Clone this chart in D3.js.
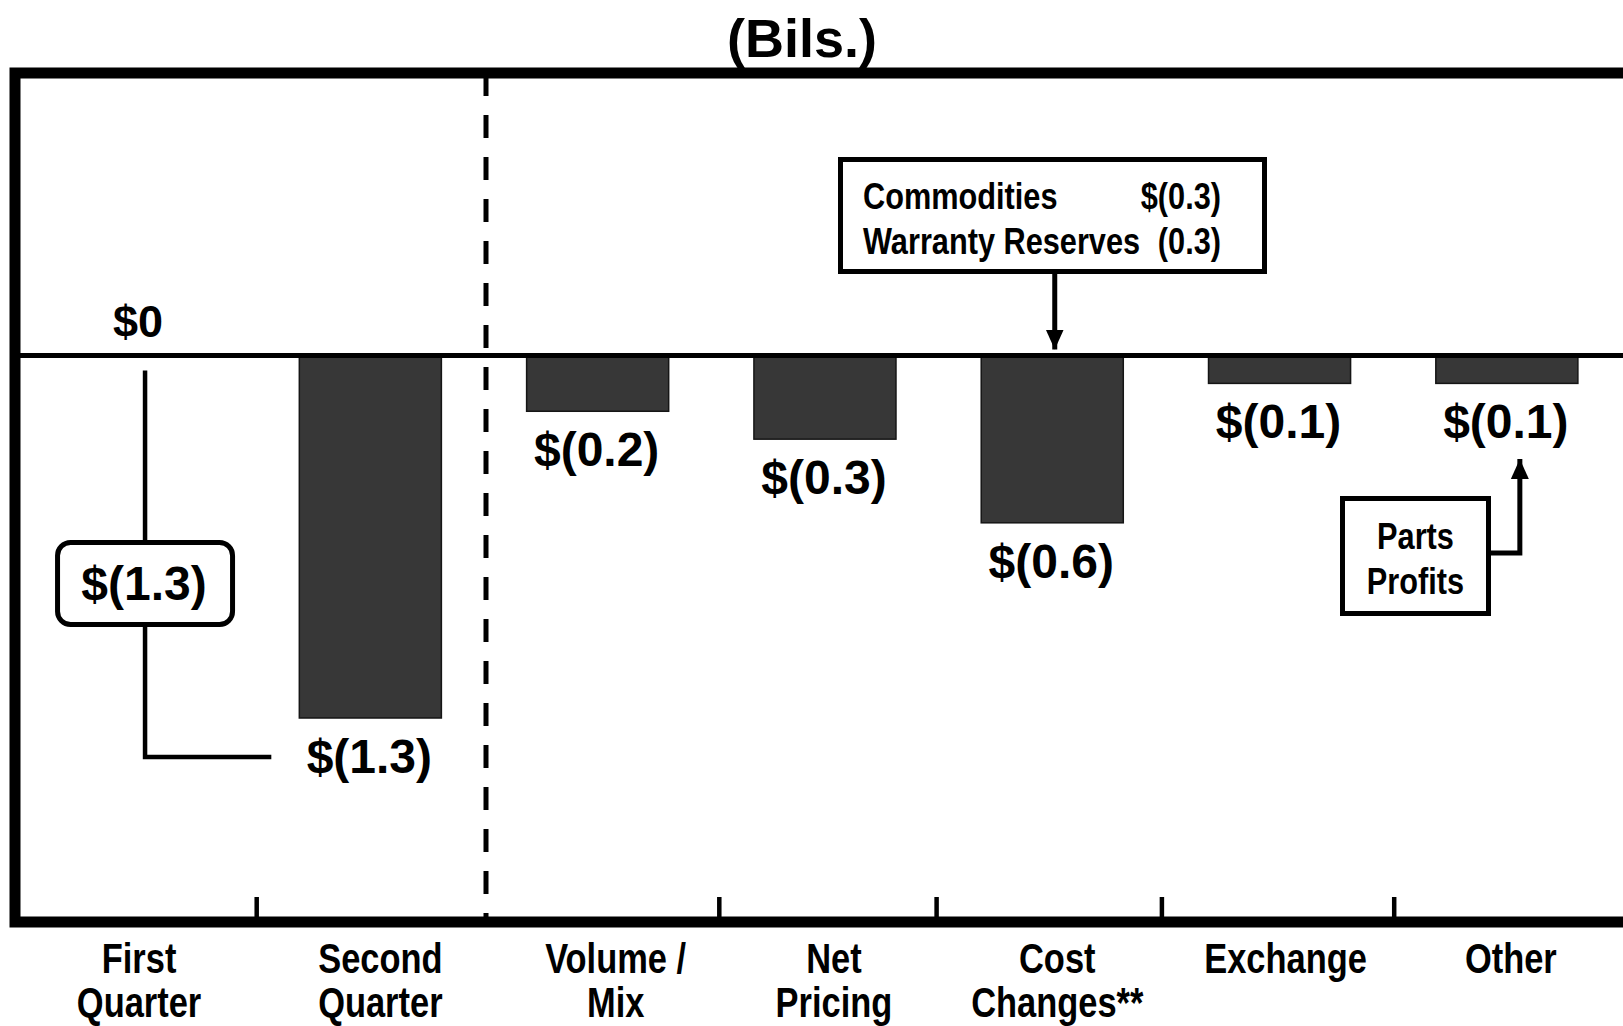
<!DOCTYPE html>
<html>
<head>
<meta charset="utf-8">
<script src="https://cdn.jsdelivr.net/npm/d3@7"></script>
<style>
  html, body { margin: 0; padding: 0; background: #ffffff; }
  svg { display: block; }
</style>
</head>
<body>
<svg id="chart" width="1623" height="1026"></svg>
<script>
// ---------------- data ----------------
const titleText = "(Bils.)";
const categories = ["First Quarter", "Second Quarter", "Volume / Mix", "Net Pricing", "Cost Changes**", "Exchange", "Other"];
const categoryLines = [["First", "Quarter"], ["Second", "Quarter"], ["Volume /", "Mix"], ["Net", "Pricing"], ["Cost", "Changes**"], ["Exchange"], ["Other"]];
const values = [0, -1.3, -0.2, -0.3, -0.6, -0.1, -0.1];
const valueLabels = ["$0", "$(1.3)", "$(0.2)", "$(0.3)", "$(0.6)", "$(0.1)", "$(0.1)"];
const changeLabel = "$(1.3)";
const costDetailNames = ["Commodities", "Warranty Reserves"];
const costDetailValues = ["$(0.3)", "(0.3)"];
const otherNoteLines = ["Parts", "Profits"];

// ---------------- layout ----------------
const W = 1623, H = 1026;
const frame = { left: 15, top: 73, right: 1640, bottom: 922 };
const labelNudge = [-4, 10, 18, 9, 5, 6, 4];     // horizontal nudges of category labels (px)
const tickNudge = [0, 8, -2, -4, 1];              // horizontal nudges of bottom ticks (px)
const svg = d3.select("#chart");
svg.append("rect").attr("width", W).attr("height", H).attr("fill", "#fff");

const x = d3.scaleBand().domain(categories).range([29.4, 1620.5]).paddingInner(0.375).paddingOuter(0.1875);
const y = d3.scaleLinear().domain([-1.3, 0]).range([718, 355.5]);
const step = x.step();
const cx = c => x(c) + x.bandwidth() / 2;
const boundary = c => x(c) - (step - x.bandwidth()) / 2;

const bold = "'Liberation Sans', Arial, Helvetica, sans-serif";

// condensed text helper
function cText(parent, tx, ty, str, size, anchor, sx) {
  return parent.append("g").attr("transform", `translate(${tx},${ty}) scale(${sx},1)`)
    .append("text").attr("x", 0).attr("y", 0)
    .attr("font-family", bold).attr("font-weight", "bold").attr("font-size", size)
    .attr("text-anchor", anchor || "start").text(str);
}

svg.append("defs").append("marker")
  .attr("id", "arrow").attr("viewBox", "0 0 10 10").attr("refX", 10).attr("refY", 5)
  .attr("markerUnits", "userSpaceOnUse").attr("markerWidth", 20).attr("markerHeight", 20)
  .attr("orient", "auto")
  .append("path").attr("d", "M0,0.5 L10,5 L0,9.5 Z").attr("fill", "#000");

// title
svg.append("text").attr("x", 802).attr("y", 57).attr("text-anchor", "middle")
  .attr("font-family", bold).attr("font-weight", "bold").attr("font-size", 54)
  .text(titleText);

// bars
svg.append("g").selectAll("rect").data(categories.map((c, i) => ({ c, v: values[i] })).filter(d => d.v !== 0))
  .join("rect")
  .attr("x", d => x(d.c)).attr("width", x.bandwidth())
  .attr("y", y(0)).attr("height", d => y(d.v) - y(0))
  .attr("fill", "#373737").attr("stroke", "#151515").attr("stroke-width", 1.5);

// zero line
svg.append("line").attr("x1", frame.left).attr("x2", W).attr("y1", y(0)).attr("y2", y(0))
  .attr("stroke", "#000").attr("stroke-width", 5);

// frame
svg.append("rect").attr("x", frame.left).attr("y", frame.top)
  .attr("width", frame.right - frame.left).attr("height", frame.bottom - frame.top)
  .attr("fill", "none").attr("stroke", "#000").attr("stroke-width", 11);

// dashed separator between quarters and components
const sepX = boundary(categories[2]) + 2;
svg.append("line").attr("x1", sepX).attr("x2", sepX).attr("y1", frame.top + 5).attr("y2", frame.bottom - 5)
  .attr("stroke", "#000").attr("stroke-width", 5).attr("stroke-dasharray", "23,19").attr("stroke-dashoffset", 5);

// bottom ticks (category boundaries)
const tickXs = categories.slice(1).map(boundary).filter((t, i) => i !== 1).map((t, i) => t + tickNudge[i]);
svg.append("g").selectAll("line").data(tickXs).join("line")
  .attr("x1", d => d).attr("x2", d => d).attr("y1", frame.bottom - 25).attr("y2", frame.bottom)
  .attr("stroke", "#000").attr("stroke-width", 4.5);

// category labels
const catG = svg.append("g");
categories.forEach((c, i) => {
  categoryLines[i].forEach((line, j) => {
    cText(catG, cx(c) + labelNudge[i], 973 + j * 44, line, 42, "middle", 0.82);
  });
});

// value labels
const valG = svg.append("g").attr("font-family", bold).attr("font-weight", "bold").attr("text-anchor", "middle");
categories.forEach((c, i) => {
  const v = values[i];
  valG.append("text")
    .attr("x", cx(c) - (v === 0 ? 5 : 1))
    .attr("y", v === 0 ? y(0) - 18.5 : y(v) + 55)
    .attr("font-size", v === 0 ? 45 : 48)
    .text(valueLabels[i]);
});

// First -> Second quarter connector with change box
const q1x = cx(categories[0]) + 2;
const boxTop = 542.5, boxBot = 624.5;
const endY = y(values[1]) + 39;
svg.append("path")
  .attr("d", `M${q1x},${y(0) + 15} V${boxTop} M${q1x},${boxBot} V${endY} H${x(categories[1]) - 28}`)
  .attr("fill", "none").attr("stroke", "#000").attr("stroke-width", 4.5);
svg.append("rect").attr("x", q1x - 87.5).attr("y", boxTop).attr("width", 175).attr("height", boxBot - boxTop)
  .attr("rx", 13).attr("ry", 13).attr("fill", "#fff").attr("stroke", "#000").attr("stroke-width", 5);
svg.append("text").attr("x", q1x - 1).attr("y", 600).attr("text-anchor", "middle")
  .attr("font-family", bold).attr("font-weight", "bold").attr("font-size", 48).text(changeLabel);

// Cost changes detail box
const costX = cx(categories[4]) + 2.5;
const cb = { x: 840.5, y: 159.5, w: 424, h: 112 };
svg.append("rect").attr("x", cb.x).attr("y", cb.y).attr("width", cb.w).attr("height", cb.h)
  .attr("fill", "#fff").attr("stroke", "#000").attr("stroke-width", 5);
const cdG = svg.append("g");
costDetailNames.forEach((n, i) => {
  cText(cdG, 863, 209 + i * 45, n, 37, "start", 0.83);
  cText(cdG, 1221, 209 + i * 45, costDetailValues[i], 37, "end", 0.83);
});
svg.append("line").attr("x1", costX).attr("x2", costX).attr("y1", cb.y + cb.h + 2).attr("y2", y(0) - 6)
  .attr("stroke", "#000").attr("stroke-width", 5).attr("marker-end", "url(#arrow)");

// Other note box
const ob = { x: 1342.5, y: 498.5, w: 146, h: 115 };
svg.append("rect").attr("x", ob.x).attr("y", ob.y).attr("width", ob.w).attr("height", ob.h)
  .attr("fill", "#fff").attr("stroke", "#000").attr("stroke-width", 5);
const onG = svg.append("g");
otherNoteLines.forEach((l, i) => {
  cText(onG, ob.x + ob.w / 2, 549 + i * 45, l, 37, "middle", 0.83);
});
const arrX = cx(categories[6]) + 13;
svg.append("path").attr("d", `M${ob.x + ob.w + 2.5},553 H${arrX} V459`)
  .attr("fill", "none").attr("stroke", "#000").attr("stroke-width", 5).attr("marker-end", "url(#arrow)");
</script>
</body>
</html>
